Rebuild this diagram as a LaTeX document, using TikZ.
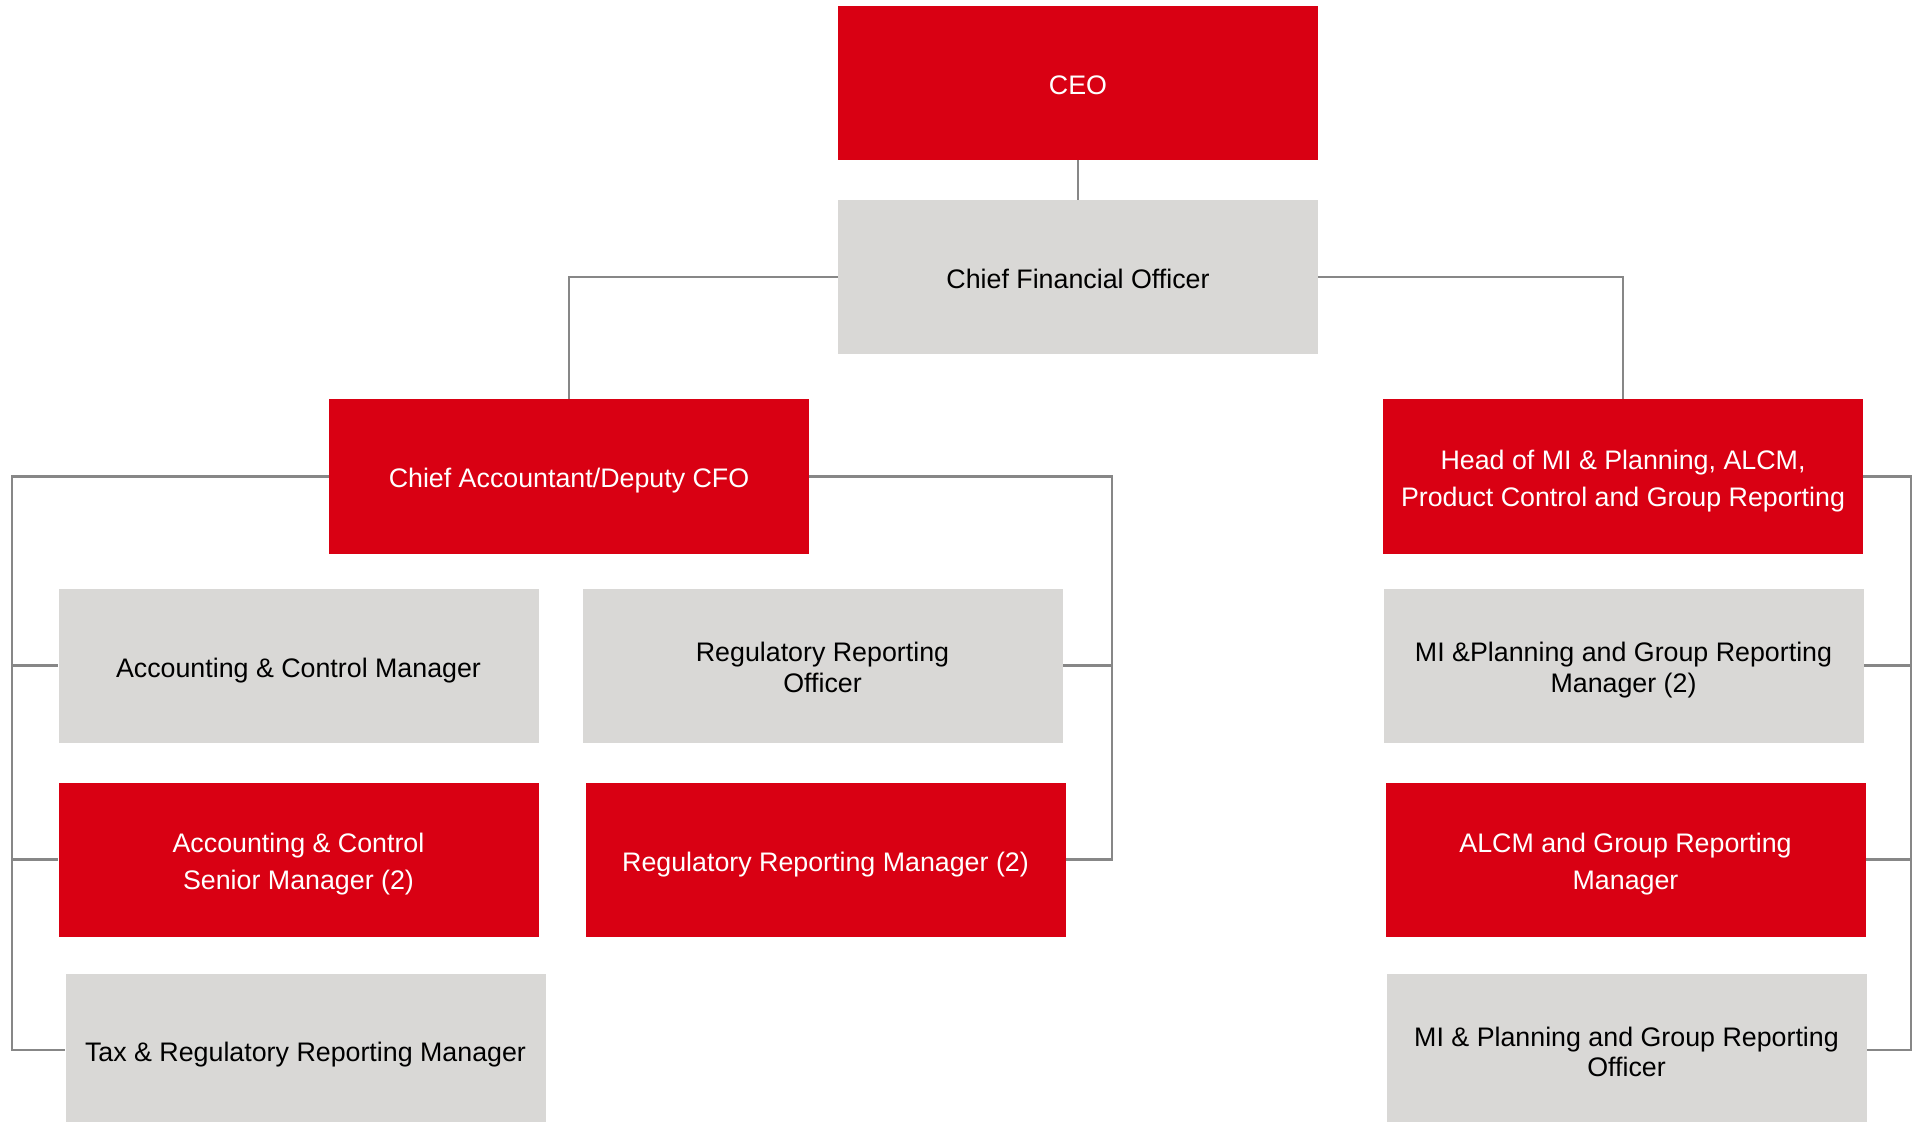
\documentclass[tikz,border=0pt]{standalone}
\usepackage{fontspec}
\setmainfont{Liberation Sans}
\definecolor{orgred}{RGB}{217,0,19}
\definecolor{orggrey}{RGB}{217,216,214}
\definecolor{orgline}{RGB}{135,135,135}
\newcommand{\topstrut}{\rule{0pt}{14.5pt}}
\newcommand{\botstrut}{\rule[-3pt]{0pt}{3pt}}
\begin{document}
\begin{tikzpicture}[x=0.5pt,y=0.5pt,yscale=-1,xscale=1,
  orgbox/.style={minimum width=240pt,minimum height=77pt,inner sep=0pt,text width=240pt,align=flush center,
    execute at begin node=\topstrut,execute at end node=\botstrut},
  redbox/.style={orgbox,fill=orgred,text=white,font=\fontsize{13.4}{18.5}\selectfont},
  greybox/.style={orgbox,fill=orggrey,text=black,font=\fontsize{13.4}{15.3}\selectfont},
  link/.style={draw=orgline,line width=1.1pt}]
\useasboundingbox (0,0) rectangle (1921,1122);

%Top
\node [redbox]  (ceo) at (1078,83) {CEO};
\node [greybox] (cfo) at (1078,277) {Chief Financial Officer};

%Second level
\node [redbox] (chacc) at (569,476.5) {Chief Accountant/Deputy CFO};
\node [redbox] (headmi) at (1623,476.5) {Head of MI \& Planning, ALCM,\\Product Control and Group Reporting};

%Accounting side
\node [greybox] (acm) at (298.5,665.5) {Accounting \& Control Manager};
\node [redbox] (acsm) at (298.5,859.5) {Accounting \& Control\\Senior Manager (2)};
\node [greybox,minimum height=76.5pt] (tax) at (305.5,1050) {Tax \& Regulatory Reporting Manager};
\node [greybox] (rro) at (822.5,665.5) {Regulatory Reporting\\Officer};
\node [redbox] (rrm) at (825.5,859.5) {Regulatory Reporting Manager (2)};

%MI side
\node [greybox] (mipm) at (1623.5,665.5) {MI \&Planning and Group Reporting\\Manager (2)};
\node [redbox] (alcm) at (1625.5,859.5) {ALCM and Group Reporting\\Manager};
\node [greybox,minimum height=76.5pt] (mipo) at (1626.5,1050) {MI \& Planning and Group Reporting\\Officer};

%Bus lines
\coordinate (lbus) at (12,476.5);
\coordinate (mbus) at (1112,476.5);
\coordinate (rbus) at (1911,476.5);

\draw [link] (ceo.south) -- (cfo.north);
\draw [link] (cfo.west) -| (chacc.north);
\draw [link] (cfo.east) -| (headmi.north);

\draw [link] (chacc.west) -- (lbus) -- (lbus |- tax.west) -- (tax.west);
\draw [link] (lbus |- acm.west) -- (acm.west);
\draw [link] (lbus |- acsm.west) -- (acsm.west);

\draw [link] (chacc.east) -- (mbus) -- (mbus |- rrm.east) -- (rrm.east);
\draw [link] (mbus |- rro.east) -- (rro.east);

\draw [link] (headmi.east) -- (rbus) -- (rbus |- mipo.east) -- (mipo.east);
\draw [link] (rbus |- mipm.east) -- (mipm.east);
\draw [link] (rbus |- alcm.east) -- (alcm.east);

\end{tikzpicture}
\end{document}
